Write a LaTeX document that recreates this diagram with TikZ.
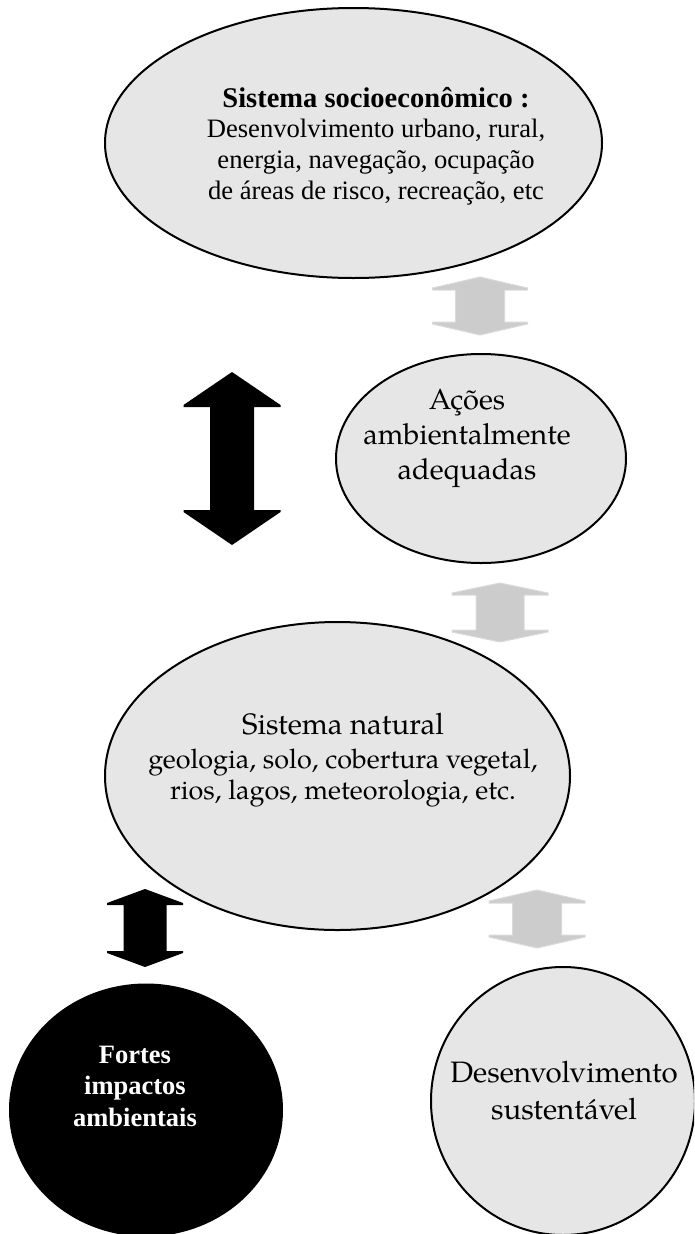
\documentclass[tikz,border=0pt]{standalone}
\usepackage{fontspec}
\setmainfont{Liberation Serif}
\newfontfamily\pala{TeX Gyre Pagella}
\usetikzlibrary{shapes.geometric}
\definecolor{bubblefill}{HTML}{E6E6E6}
\definecolor{softarrow}{HTML}{CCCCCC}
\definecolor{softedge}{HTML}{DADADA}
\tikzset{
  bubble/.style={ellipse, draw=black, line width=2pt, fill=bubblefill, inner sep=0pt},
  darkbubble/.style={bubble, fill=black},
  txt/.style={align=center, inner sep=0pt},
  % vertical double-headed block arrow: half length / head half width / shaft half width / head length
  pics/dblarrow/.style args={#1/#2/#3/#4}{code={
    \path[pic actions] (0,-#1) -- (#2,-#1+#4-2) -- (#2,-#1+#4) -- (#3,-#1+#4) -- (#3,#1-#4)
      -- (#2,#1-#4) -- (#2,#1-#4+2) -- (0,#1) -- (-#2,#1-#4+2) -- (-#2,#1-#4) -- (-#3,#1-#4)
      -- (-#3,-#1+#4) -- (-#2,-#1+#4) -- (-#2,-#1+#4-2) -- cycle;
  }},
  darkarrow/.style={fill=black},
  lightarrow/.style={fill=softarrow, draw=softedge, line width=1pt, line join=round},
}
\begin{document}
\begin{tikzpicture}[x=1pt, y=-1pt]
\useasboundingbox (0,0) rectangle (694,1234);
\clip (0,0) rectangle (694,1234);

% bubbles
\node[bubble, minimum width=497pt, minimum height=270pt] (socio) at (353.5,143) {};
\node[bubble, minimum width=290pt, minimum height=209pt] (acoes) at (481,458.5) {};
\node[bubble, minimum width=465pt, minimum height=308pt] (natural) at (337.5,776) {};
\node[darkbubble, minimum width=272pt, minimum height=251pt] (fortes) at (146,1110) {};
\node[bubble, minimum width=264pt, minimum height=268pt] (desenv) at (563,1101) {};

% texts
\node[txt, font=\fontsize{26.6}{30.7}\selectfont] (sociotext) at (376,146)
  {{\fontsize{28.5}{30.7}\selectfont\bfseries Sistema socioeconômico :}\\Desenvolvimento urbano, rural,\\energia, navegação, ocupação\\de áreas de risco, recreação, etc};
\node[txt, font=\pala\fontsize{29}{35}\selectfont] (acoestext) at (467,438)
  {Ações\\ambientalmente\\adequadas};
\node[txt, font=\pala\fontsize{27}{30.5}\selectfont] (naturaltext) at (343,760)
  {{\fontsize{29.5}{30.5}\selectfont Sistema natural}\\[4pt]geologia, solo, cobertura vegetal,\\rios, lagos, meteorologia, etc.};
\node[txt, text=white, font=\bfseries\fontsize{26.5}{31.5}\selectfont] (fortestext) at (135,1086)
  {Fortes\\impactos\\ambientais};
\node[txt, font=\pala\fontsize{29.5}{37}\selectfont] (desenvtext) at (564,1091)
  {Desenvolvimento\\sustentável};

% block arrows
\pic[lightarrow] at (480,306) {dblarrow={29/47.5/24.5/13}};
\pic[darkarrow] at (232,458.5) {dblarrow={86.5/48.5/22/35}};
\pic[lightarrow] at (500,612.5) {dblarrow={29.5/48/24/12}};
\pic[darkarrow] at (145,928) {dblarrow={39/38/21.5/16}};
\pic[lightarrow] at (537,919) {dblarrow={29/48/24.5/13}};
\end{tikzpicture}
\end{document}
